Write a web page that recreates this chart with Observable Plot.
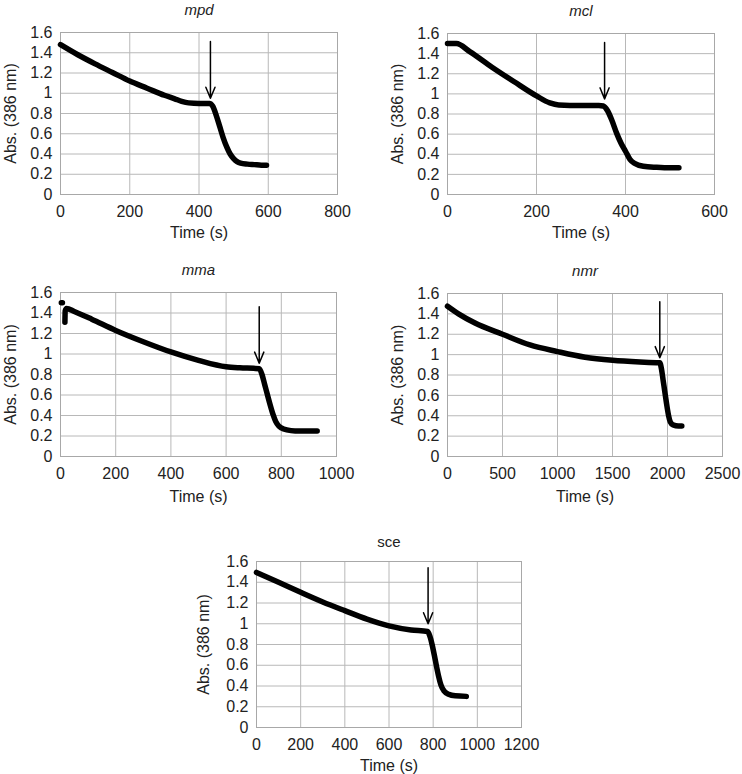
<!DOCTYPE html>
<html>
<head>
<meta charset="utf-8">
<script src="https://cdn.jsdelivr.net/npm/d3@7"></script>
<script src="https://cdn.jsdelivr.net/npm/@observablehq/plot@0.6"></script>
<style>
  html, body { margin: 0; padding: 0; background: #fff; }
  #wrap { position: relative; width: 742px; height: 774px; overflow: hidden; }
  #wrap svg { position: absolute; overflow: visible; }
</style>
</head>
<body>
<div id="wrap"></div>
<script>
// ---- data ----
const yTicks = [0, 0.2, 0.4, 0.6, 0.8, 1, 1.2, 1.4, 1.6];
const yTickLabels = ["0", "0.2", "0.4", "0.6", "0.8", "1", "1.2", "1.4", "1.6"];
const xLabel = "Time (s)";
const yLabel = "Abs. (386 nm)";

const mpdTime = [0, 50, 100, 150, 200, 250, 300, 330, 350, 370, 400, 430, 440, 450, 460, 470, 480, 490, 500, 510, 520, 540, 560, 580, 595];
const mpdAbs  = [1.48, 1.38, 1.29, 1.205, 1.12, 1.05, 0.98, 0.945, 0.92, 0.905, 0.90, 0.90, 0.87, 0.78, 0.67, 0.56, 0.47, 0.40, 0.355, 0.325, 0.31, 0.30, 0.295, 0.29, 0.29];
const mpdTicks = [0, 200, 400, 600, 800];
const mpdArrow = {t: 433, from: 1.51, to: 0.95};

const mclTime = [0, 20, 50, 100, 150, 200, 230, 250, 300, 340, 350, 360, 370, 380, 390, 400, 410, 420, 440, 470, 500, 520];
const mclAbs  = [1.50, 1.50, 1.42, 1.265, 1.12, 0.98, 0.91, 0.89, 0.885, 0.885, 0.88, 0.83, 0.73, 0.61, 0.51, 0.43, 0.35, 0.31, 0.28, 0.27, 0.265, 0.265];
const mclTicks = [0, 200, 400, 600];
const mclArrow = {t: 353, from: 1.51, to: 0.95};

const mmaTime = [3, 7, null, 16, 17, 22, 50, 113, 200, 300, 400, 500, 600, 650, 700, 720, 730, 740, 750, 760, 770, 780, 790, 800, 820, 850, 900, 930];
const mmaAbs  = [1.50, 1.50, null, 1.31, 1.42, 1.445, 1.415, 1.34, 1.23, 1.12, 1.02, 0.938, 0.875, 0.865, 0.86, 0.857, 0.80, 0.70, 0.60, 0.50, 0.41, 0.34, 0.30, 0.28, 0.26, 0.25, 0.25, 0.25];
const mmaTicks = [0, 200, 400, 600, 800, 1000];
const mmaArrow = {t: 720, from: 1.46, to: 0.91};

const nmrTime = [0, 100, 250, 500, 750, 1000, 1250, 1500, 1750, 1900, 1930, 1945, 1960, 1975, 1990, 2000, 2010, 2025, 2050, 2100, 2130];
const nmrAbs  = [1.475, 1.40, 1.31, 1.20, 1.095, 1.03, 0.975, 0.945, 0.928, 0.921, 0.92, 0.86, 0.75, 0.64, 0.53, 0.46, 0.40, 0.34, 0.31, 0.30, 0.30];
const nmrTicks = [0, 500, 1000, 1500, 2000, 2500];
const nmrArrow = {t: 1930, from: 1.52, to: 0.97};

const sceTime = [0, 100, 200, 300, 400, 500, 600, 700, 775, 785, 795, 805, 815, 825, 835, 850, 870, 900, 950];
const sceAbs  = [1.495, 1.40, 1.303, 1.21, 1.126, 1.045, 0.98, 0.94, 0.925, 0.88, 0.80, 0.70, 0.59, 0.49, 0.41, 0.35, 0.32, 0.305, 0.30];
const sceTicks = [0, 200, 400, 600, 800, 1000, 1200];
const sceArrow = {t: 777, from: 1.54, to: 1.00};

// ---- panels ----
const panels = [
  {name: "mpd", italic: true, time: mpdTime, abs: mpdAbs, ticks: mpdTicks, arrow: mpdArrow,
   left: 0, top: 0, width: 350, height: 245, ml: 60, mr: 13, mt: 32, mb: 51, ylx: 10, tdy: -22, xdy: 38},
  {name: "mcl", italic: true, time: mclTime, abs: mclAbs, ticks: mclTicks, arrow: mclArrow,
   left: 372, top: 0, width: 370, height: 245, ml: 75, mr: 28, mt: 33, mb: 51, ylx: 25, tdy: -22, xdy: 38},
  {name: "mma", italic: true, time: mmaTime, abs: mmaAbs, ticks: mmaTicks, arrow: mmaArrow,
   left: 0, top: 260, width: 350, height: 245, ml: 60, mr: 14, mt: 32, mb: 49, ylx: 10, tdy: -22, xdy: 40},
  {name: "nmr", italic: true, time: nmrTime, abs: nmrAbs, ticks: nmrTicks, arrow: nmrArrow,
   left: 372, top: 260, width: 370, height: 245, ml: 75, mr: 20, mt: 33, mb: 49, ylx: 25, tdy: -22, xdy: 40},
  {name: "sce", italic: false, time: sceTime, abs: sceAbs, ticks: sceTicks, arrow: sceArrow,
   left: 190, top: 528, width: 355, height: 246, ml: 66, mr: 24, mt: 33, mb: 47, ylx: 13, tdy: -19, xdy: 38}
];

const wrap = document.getElementById("wrap");
const FONT = "'Liberation Sans', Arial, Helvetica, sans-serif";
const GRID = "#b8b8b8";

for (const p of panels) {
  const rows = p.time.map((t, i) => ({t, v: p.abs[i]}));
  const xMax = p.ticks[p.ticks.length - 1];
  const chart = Plot.plot({
    width: p.width,
    height: p.height,
    marginLeft: p.ml, marginRight: p.mr, marginTop: p.mt, marginBottom: p.mb,
    style: {fontFamily: FONT, fontSize: "16px", color: "#222", background: "transparent", overflow: "visible"},
    x: {domain: [0, xMax], ticks: p.ticks},
    y: {domain: [0, 1.6], ticks: yTicks},
    marks: [
      Plot.gridX(p.ticks, {stroke: GRID, strokeOpacity: 1}),
      Plot.gridY(yTicks, {stroke: GRID, strokeOpacity: 1}),
      Plot.frame({stroke: "#a8a8a8"}),
      Plot.axisX(p.ticks, {tickSize: 0, tickPadding: 11, label: null, fontSize: 16, fill: "#222",
                           tickFormat: (d) => String(d)}),
      Plot.axisY(yTicks, {tickSize: 0, tickPadding: 8, label: null, fontSize: 16, fill: "#222",
                          tickFormat: (d) => yTickLabels[yTicks.indexOf(d)]}),
      Plot.line(rows, {x: "t", y: "v", stroke: "black", strokeWidth: 5.5, curve: "monotone-x",
                       strokeLinecap: "round", strokeLinejoin: "round", defined: (d) => d.t != null && d.v != null}),
      Plot.arrow([p.arrow], {x1: "t", x2: "t", y1: "from", y2: "to", stroke: "black",
                             strokeWidth: 1.5, headLength: 12, headAngle: 45, bend: 0}),
      Plot.text([p.name], {frameAnchor: "top", lineAnchor: "middle", dy: p.tdy, fontSize: 15, fill: "#222",
                           fontStyle: p.italic ? "italic" : "normal"}),
      Plot.text([xLabel], {frameAnchor: "bottom", lineAnchor: "middle", dy: p.xdy, fontSize: 16, fill: "#222"}),
      Plot.text([yLabel], {frameAnchor: "left", textAnchor: "middle", lineAnchor: "middle",
                           dx: -p.ml + p.ylx, rotate: -90, fontSize: 16, fill: "#222"})
    ]
  });
  chart.style.left = p.left + "px";
  chart.style.top = p.top + "px";
  wrap.appendChild(chart);
}
</script>
</body>
</html>
